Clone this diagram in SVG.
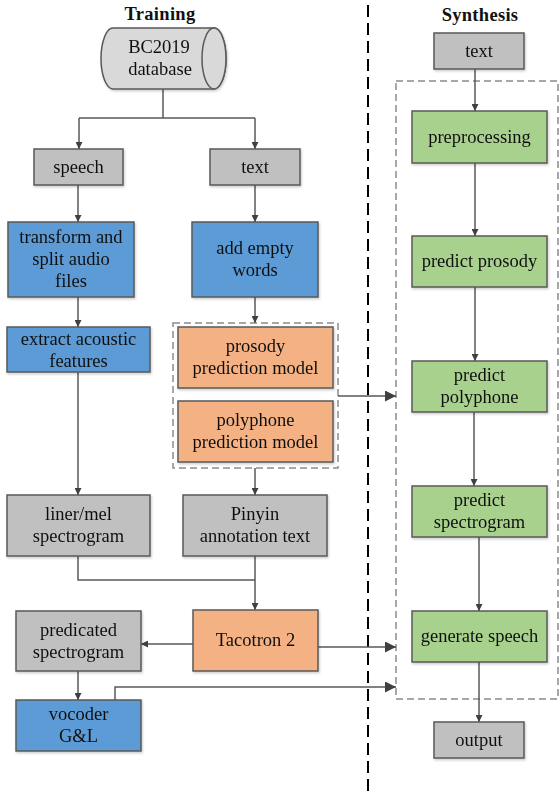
<svg xmlns="http://www.w3.org/2000/svg" width="560" height="798" viewBox="0 0 560 798">
<style>
  .box{stroke:#595959;stroke-width:1.5}
  .gray{fill:#c0c0c0}
  .blue{fill:#5b9bd5}
  .orange{fill:#f4b183}
  .green{fill:#a9d18e}
  .cyl{fill:#d9d9d9}
  text{font-family:"Liberation Serif","Times New Roman",serif;font-size:18.5px;fill:#111;text-anchor:middle}
  .title{font-weight:bold;font-size:18.5px;letter-spacing:0.3px}
  .conn{fill:none;stroke:#595959;stroke-width:1.5}
  .grp{fill:none;stroke:#8c8c8c;stroke-width:1.5;stroke-dasharray:7 4}
</style>
<defs>
  <marker id="ah" viewBox="0 0 10 10" refX="10" refY="5" markerUnits="userSpaceOnUse" markerWidth="8" markerHeight="7" orient="auto">
    <path d="M0,0 L10,5 L0,10 z" fill="#404040"/>
  </marker>
  <marker id="ahb" viewBox="0 0 10 10" refX="10" refY="5" markerUnits="userSpaceOnUse" markerWidth="13" markerHeight="11" orient="auto">
    <path d="M0,0 L10,5 L0,10 z" fill="#404040"/>
  </marker>
  <filter id="sh" x="-10%" y="-10%" width="120%" height="130%">
    <feDropShadow dx="1" dy="1.5" stdDeviation="1" flood-color="#000" flood-opacity="0.2"/>
  </filter>
</defs>

<text class="title" x="160" y="20">Training</text>
<text class="title" x="480" y="21">Synthesis</text>

<line x1="368" y1="5" x2="368" y2="795" stroke="#000" stroke-width="2" stroke-dasharray="12 6"/>

<g id="groups">
  <rect id="model-group" class="grp" x="173" y="323" width="165" height="145"/>
  <rect id="synthesis-group" class="grp" x="396" y="81" width="162" height="618"/>
</g>

<g id="connectors">
  <path class="conn" d="M163,89 V118 M79,118 H255"/>
  <path class="conn" d="M79,118 V149" marker-end="url(#ah)"/>
  <path class="conn" d="M255,118 V149" marker-end="url(#ah)"/>
  <path class="conn" d="M78,185 V222" marker-end="url(#ah)"/>
  <path class="conn" d="M255,185 V222" marker-end="url(#ah)"/>
  <path class="conn" d="M78,297 V327" marker-end="url(#ah)"/>
  <path class="conn" d="M255,297 V323" marker-end="url(#ah)"/>
  <path class="conn" d="M78,372 V495" marker-end="url(#ah)"/>
  <path class="conn" d="M255,468 V495" marker-end="url(#ah)"/>
  <path class="conn" d="M78,556 V580 H255"/>
  <path class="conn" d="M255,556 V610" marker-end="url(#ah)"/>
  <path class="conn" d="M193,644 H141" marker-end="url(#ah)"/>
  <path class="conn" d="M78,671 V700" marker-end="url(#ah)"/>
  <path class="conn" d="M115,700 V687 H396" marker-end="url(#ahb)"/>
  <path class="conn" d="M318,647 H396" marker-end="url(#ahb)"/>
  <path class="conn" d="M338,396 H396" marker-end="url(#ahb)"/>
  <path class="conn" d="M475,69 V111" marker-end="url(#ah)"/>
  <path class="conn" d="M475,163 V236" marker-end="url(#ah)"/>
  <path class="conn" d="M475,287 V361" marker-end="url(#ah)"/>
  <path class="conn" d="M474,412 V486" marker-end="url(#ah)"/>
  <path class="conn" d="M479,537 V611" marker-end="url(#ah)"/>
  <path class="conn" d="M479,662 V722" marker-end="url(#ah)"/>
</g>

<g id="database" filter="url(#sh)">
  <path class="box cyl" d="M113,28 L214,28 A12,30.5 0 0 1 214,89 L113,89 A12,30.5 0 0 1 113,28 Z"/>
  <ellipse class="box cyl" cx="214" cy="58.5" rx="12" ry="30.5"/>
  <text x="159" y="53">BC2019</text>
  <text x="160" y="75">database</text>
</g>

<g id="speech" filter="url(#sh)">
  <rect class="box gray" x="34" y="149" width="89" height="36"/>
  <text x="78.5" y="173">speech</text>
</g>
<g id="text-train" filter="url(#sh)">
  <rect class="box gray" x="210" y="149" width="90" height="36"/>
  <text x="255" y="173">text</text>
</g>
<g id="transform" filter="url(#sh)">
  <rect class="box blue" x="8" y="222" width="126" height="75"/>
  <text x="71" y="243">transform and</text>
  <text x="71" y="265">split audio</text>
  <text x="71" y="287">files</text>
</g>
<g id="add-empty" filter="url(#sh)">
  <rect class="box blue" x="192" y="222" width="126" height="75"/>
  <text x="255" y="254">add empty</text>
  <text x="255" y="276">words</text>
</g>
<g id="extract" filter="url(#sh)">
  <rect class="box blue" x="7" y="327" width="143" height="45"/>
  <text x="78.5" y="345">extract acoustic</text>
  <text x="78.5" y="367">features</text>
</g>
<g id="prosody-model" filter="url(#sh)">
  <rect class="box orange" x="178" y="327" width="155" height="61"/>
  <text x="255.5" y="352">prosody</text>
  <text x="255.5" y="374">prediction model</text>
</g>
<g id="polyphone-model" filter="url(#sh)">
  <rect class="box orange" x="178" y="401" width="155" height="61"/>
  <text x="255.5" y="426">polyphone</text>
  <text x="255.5" y="448">prediction model</text>
</g>
<g id="liner-mel" filter="url(#sh)">
  <rect class="box gray" x="7" y="495" width="143" height="61"/>
  <text x="78.5" y="520">liner/mel</text>
  <text x="78.5" y="542">spectrogram</text>
</g>
<g id="pinyin" filter="url(#sh)">
  <rect class="box gray" x="183" y="495" width="144" height="61"/>
  <text x="255" y="520">Pinyin</text>
  <text x="255" y="542">annotation text</text>
</g>
<g id="tacotron" filter="url(#sh)">
  <rect class="box orange" x="193" y="610" width="125" height="61"/>
  <text x="255.5" y="646">Tacotron 2</text>
</g>
<g id="predicated" filter="url(#sh)">
  <rect class="box gray" x="16" y="611" width="125" height="60"/>
  <text x="78.5" y="636">predicated</text>
  <text x="78.5" y="658">spectrogram</text>
</g>
<g id="vocoder" filter="url(#sh)">
  <rect class="box blue" x="16" y="700" width="125" height="51"/>
  <text x="78.5" y="720">vocoder</text>
  <text x="78.5" y="742">G&amp;L</text>
</g>

<g id="text-synth" filter="url(#sh)">
  <rect class="box gray" x="434" y="33" width="90" height="36"/>
  <text x="479" y="57">text</text>
</g>
<g id="preprocessing" filter="url(#sh)">
  <rect class="box green" x="412" y="111" width="135" height="52"/>
  <text x="479.5" y="143">preprocessing</text>
</g>
<g id="predict-prosody" filter="url(#sh)">
  <rect class="box green" x="412" y="236" width="135" height="51"/>
  <text x="479.5" y="267">predict prosody</text>
</g>
<g id="predict-polyphone" filter="url(#sh)">
  <rect class="box green" x="412" y="361" width="135" height="51"/>
  <text x="479.5" y="381">predict</text>
  <text x="479.5" y="403">polyphone</text>
</g>
<g id="predict-spectrogram" filter="url(#sh)">
  <rect class="box green" x="412" y="486" width="135" height="51"/>
  <text x="479.5" y="506">predict</text>
  <text x="479.5" y="528">spectrogram</text>
</g>
<g id="generate-speech" filter="url(#sh)">
  <rect class="box green" x="412" y="611" width="135" height="51"/>
  <text x="479.5" y="642">generate speech</text>
</g>
<g id="output" filter="url(#sh)">
  <rect class="box gray" x="434" y="722" width="90" height="36"/>
  <text x="479" y="746">output</text>
</g>
</svg>
